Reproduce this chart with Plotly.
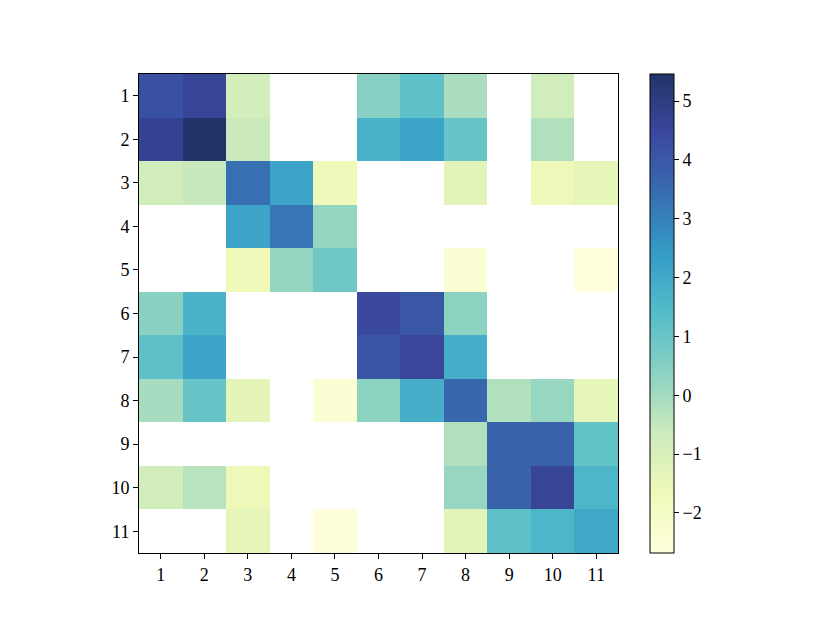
import plotly.graph_objects as go

rows = list(range(1, 12))
cols = list(range(1, 12))
N = None
z = [
    [4.2, 4.6, -0.85, N, N, 0.45, 1.2, -0.1, N, -0.8, N],
    [4.7, 5.46, -0.6, N, N, 1.75, 2.15, 1.05, N, -0.2, N],
    [-0.8, -0.55, 3.4, 2.15, -1.7, N, N, -1.3, N, -1.6, -1.4],
    [N, N, 2.15, 3.25, 0.25, N, N, N, N, N, N],
    [N, N, -1.7, 0.25, 0.9, N, N, -2.4, N, N, -2.68],
    [0.4, 1.7, N, N, N, 4.45, 4.05, 0.35, N, N, N],
    [1.2, 2.15, N, N, N, 4.1, 4.5, 1.85, N, N, N],
    [-0.05, 1.05, -1.35, N, -2.4, 0.35, 1.85, 3.6, -0.2, 0.2, -1.4],
    [N, N, N, N, N, N, N, -0.2, 3.75, 3.75, 1.15],
    [-0.8, -0.3, -1.6, N, N, N, N, 0.2, 3.75, 4.6, 1.6],
    [N, N, -1.4, N, -2.6, N, N, -1.3, 1.2, 1.6, 2.05],
]
zmin, zmax = -2.68, 5.46
cbar_ticks = [-2, -1, 0, 1, 2, 3, 4, 5]

base = [(255,255,217),(237,248,177),(199,233,180),(127,205,187),(65,182,196),
        (29,145,192),(34,94,168),(37,52,148),(8,29,88)]
alpha = 0.9
scale = []
for i, c in enumerate(base):
    r, g, b = [round(alpha*v + (1-alpha)*255) for v in c]
    scale.append([i/8, f"rgb({r},{g},{b})"])

font = dict(family="Liberation Serif", size=18, color="black")

# page body has an 8px default margin; figure is sized to compensate
W, H = 822, 615
L, T = 131, 66
PW = 479

fig = go.Figure(go.Heatmap(
    x=cols, y=rows, z=z, zmin=zmin, zmax=zmax, colorscale=scale,
    hoverongaps=False,
    colorbar=dict(
        x=(642 - L) / PW, xanchor="left", xref="paper",
        y=0.5, yanchor="middle", len=1, lenmode="fraction",
        thickness=24, thicknessmode="pixels",
        outlinewidth=1, outlinecolor="black",
        ticks="outside", ticklen=5, tickwidth=1, tickcolor="black",
        tickvals=cbar_ticks, ticktext=[str(v).replace("-", "\u2212") for v in cbar_ticks],
        tickfont=font, xpad=0, ypad=0,
    ),
))
fig.update_layout(
    width=W, height=H,
    margin=dict(l=L, r=W - L - PW, t=T, b=H - T - PW),
    paper_bgcolor="white", plot_bgcolor="white",
    font=font,
)
axis_style = dict(ticks="outside", ticklen=5, tickwidth=1, tickcolor="black",
                  showline=True, linecolor="black", linewidth=1, mirror=True,
                  showgrid=False, zeroline=False, tickfont=font)
fig.update_xaxes(range=[0.5, 11.5], tickvals=cols, ticktext=[str(v) for v in cols], **axis_style)
fig.update_yaxes(range=[11.5, 0.5], tickvals=rows, ticktext=[str(v) for v in rows], **axis_style)
fig.write_html("out.html")
